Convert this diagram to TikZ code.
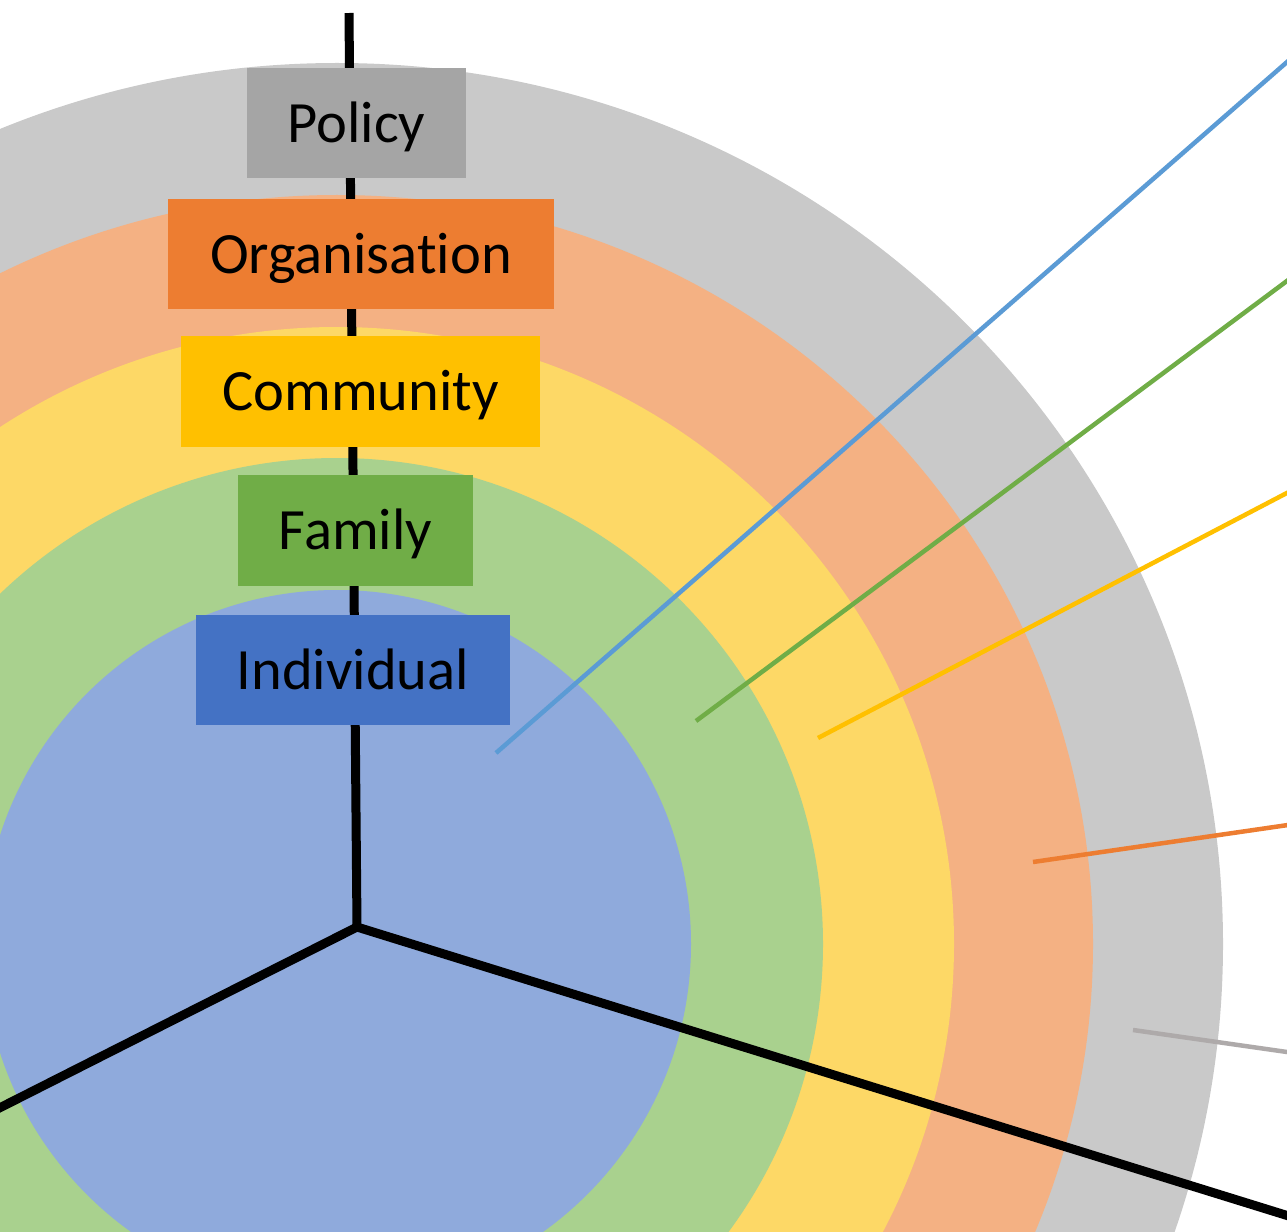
\documentclass[tikz,border=0pt]{standalone}
\usepackage{fontspec}
\setmainfont{Carlito}[Ligatures=NoCommon]
\definecolor{ringgray}{HTML}{C9C9C9}
\definecolor{ringorange}{HTML}{F4B183}
\definecolor{ringyellow}{HTML}{FDD866}
\definecolor{ringgreen}{HTML}{A9D18E}
\definecolor{ringblue}{HTML}{8FAADC}
\definecolor{boxgray}{HTML}{A5A5A5}
\definecolor{boxorange}{HTML}{ED7D31}
\definecolor{boxyellow}{HTML}{FFC000}
\definecolor{boxgreen}{HTML}{70AD47}
\definecolor{boxblue}{HTML}{4472C4}
\definecolor{lineblue}{HTML}{5B9BD5}
\definecolor{linegray}{HTML}{AEAAAA}
\begin{document}
\begin{tikzpicture}[x=1bp,y=-1bp,
  ring/.style={fill=#1,draw=none},
  levelbox/.style={fill=#1,draw=none,rectangle,inner sep=0pt,
    font=\fontsize{58.5bp}{62bp}\selectfont,text height=38bp,text depth=0pt},
  pointer/.style={draw=#1,line width=4.5bp},
  axis/.style={draw=black,line width=9bp}]
\useasboundingbox (0,0) rectangle (1287,1232);
\clip (0,0) rectangle (1287,1232);
% concentric rings, outermost first
\coordinate (c) at (337,944);
\fill[ring=ringgray]   (c) ellipse[x radius=886bp,y radius=881bp];
\fill[ring=ringorange] (c) ellipse[x radius=756bp,y radius=749bp];
\fill[ring=ringyellow] (c) circle[radius=617bp];
\fill[ring=ringgreen]  (c) circle[radius=486bp];
\fill[ring=ringblue]   (c) circle[radius=354bp];
% pointer lines leaving each ring
\coordinate (pb1) at (496,753);  \coordinate (pb2) at (1350,7);
\coordinate (pg1) at (696,721);  \coordinate (pg2) at (1350,234);
\coordinate (py1) at (818,738);  \coordinate (py2) at (1350,460);
\coordinate (po1) at (1033,862); \coordinate (po2) at (1350,816);
\coordinate (pr1) at (1133,1030);\coordinate (pr2) at (1350,1061);
\draw[pointer=lineblue]  (pb1) -- (pb2);
\draw[pointer=boxgreen]  (pg1) -- (pg2);
\draw[pointer=boxyellow] (py1) -- (py2);
\draw[pointer=boxorange] (po1) -- (po2);
\draw[pointer=linegray]  (pr1) -- (pr2);
% three black axes meeting at the hub
\coordinate (top) at (349,13);
\coordinate (hub) at (357,927);
\coordinate (leftend) at (-50,1133);
\coordinate (rightend) at (1350,1235);
\draw[axis] (top) -- (hub);
\draw[axis,line join=miter] (leftend) -- (hub) -- (rightend);
% level labels
\node[levelbox=boxgray,minimum width=219bp,minimum height=110bp] (policy) at (356.5,123) {Policy};
\node[levelbox=boxorange,minimum width=386bp,minimum height=110bp] (organisation) at (361,254) {Organisation};
\node[levelbox=boxyellow,minimum width=359bp,minimum height=111bp] (community) at (360.5,391.5) {Community};
\node[levelbox=boxgreen,minimum width=235bp,minimum height=111bp] (family) at (355.5,530.5) {Family};
\node[levelbox=boxblue,minimum width=314bp,minimum height=110bp] (individual) at (353,670) {Individual};
\end{tikzpicture}
\end{document}
